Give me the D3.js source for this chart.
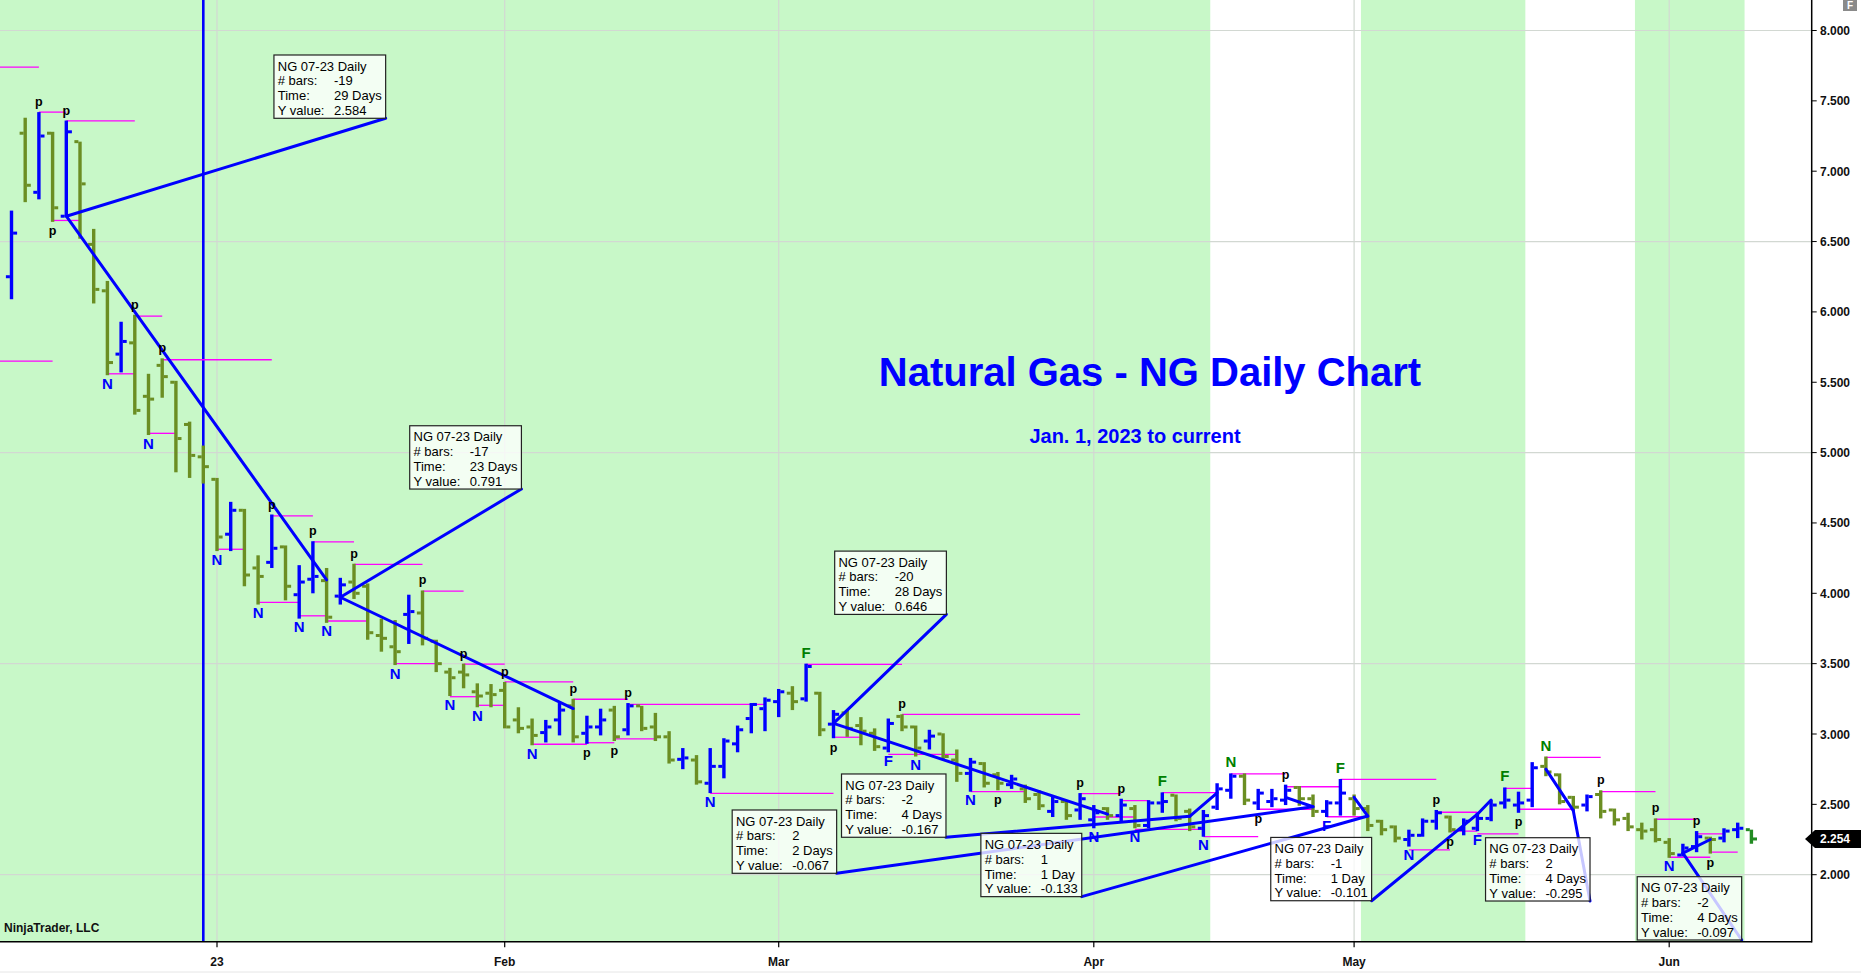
<!DOCTYPE html>
<html><head><meta charset="utf-8">
<script src="https://cdn.jsdelivr.net/npm/d3@7"></script>
<style>
body{margin:0;background:#fff;overflow:hidden;}
svg{display:block;font-family:"Liberation Sans",Arial,sans-serif;}
</style>
</head><body>
<svg id="c" width="1861" height="973"></svg>
<script>
// ---------- DATA ----------
const opens = [
6.25,7.27,6.85,7.27,6.68,7.21,6.48,6.15,5.70,5.78,
5.40,5.62,5.50,5.20,4.97,4.81,4.42,4.59,4.18,4.22,
4.33,3.99,4.10,4.09,3.98,4.08,4.05,3.70,3.62,3.85,
3.86,3.66,3.44,3.44,3.30,3.29,3.31,3.10,3.05,3.01,
3.10,3.20,3.005,3.05,3.17,3.03,3.20,3.05,2.98,2.82,
2.815,2.65,2.77,2.93,3.11,3.18,3.23,3.29,3.25,3.29,
3.07,3.15,3.06,3.005,2.90,3.125,3.05,2.95,3.00,2.815,
2.72,2.79,2.71,2.64,2.61,2.57,2.45,2.52,2.46,2.39,
2.47,2.42,2.47,2.35,2.51,2.565,2.45,2.33,2.48,2.60,
2.70,2.51,2.52,2.53,2.62,2.54,2.45,2.51,2.54,2.47,
2.38,2.34,2.25,2.28,2.38,2.41,2.32,2.33,2.40,2.51,
2.495,2.53,2.77,2.71,2.55,2.495,2.57,2.46,2.40,2.32,
2.32,2.23,2.14,2.20,2.26,2.26,2.32,2.32];
const highs = [
6.72,7.38,7.42,7.28,7.36,7.21,6.59,6.22,5.93,5.98,
5.56,5.67,5.51,5.22,5.05,4.82,4.65,4.60,4.27,4.56,
4.34,4.20,4.37,4.18,4.11,4.21,4.07,3.82,3.81,3.99,
4.02,3.67,3.47,3.50,3.36,3.355,3.37,3.19,3.11,3.10,
3.22,3.25,3.13,3.18,3.20,3.22,3.20,3.15,3.02,2.90,
2.85,2.90,2.97,3.06,3.22,3.26,3.32,3.34,3.50,3.30,
3.17,3.17,3.12,3.04,3.11,3.14,3.06,3.03,3.005,2.89,
2.83,2.80,2.73,2.71,2.64,2.60,2.56,2.53,2.58,2.495,
2.48,2.54,2.495,2.53,2.585,2.57,2.47,2.46,2.65,2.72,
2.72,2.61,2.61,2.64,2.63,2.57,2.53,2.68,2.57,2.495,
2.39,2.35,2.32,2.40,2.46,2.42,2.40,2.44,2.53,2.62,
2.59,2.80,2.84,2.72,2.56,2.57,2.60,2.47,2.44,2.37,
2.40,2.26,2.22,2.31,2.27,2.33,2.37,2.32];
const lows = [
6.09,6.78,6.80,6.64,6.68,6.52,6.06,5.55,5.57,5.27,
5.125,5.39,4.86,4.82,4.78,4.30,4.30,4.05,3.92,4.18,
3.95,3.82,4.00,3.79,3.92,3.96,3.67,3.585,3.49,3.64,
3.63,3.44,3.27,3.325,3.19,3.19,3.04,3.005,2.92,2.94,
2.99,2.94,2.93,2.99,2.95,2.99,3.02,2.95,2.79,2.75,
2.64,2.58,2.685,2.87,3.005,3.02,3.12,3.17,3.23,2.985,
2.97,2.98,2.92,2.88,2.87,3.02,2.84,2.89,2.815,2.66,
2.59,2.62,2.60,2.61,2.51,2.46,2.41,2.39,2.39,2.33,
2.39,2.38,2.33,2.33,2.44,2.38,2.31,2.27,2.46,2.54,
2.495,2.46,2.48,2.495,2.49,2.41,2.41,2.42,2.42,2.31,
2.28,2.23,2.20,2.27,2.32,2.30,2.28,2.31,2.38,2.47,
2.44,2.48,2.70,2.50,2.46,2.45,2.40,2.35,2.31,2.25,
2.23,2.12,2.13,2.16,2.15,2.23,2.26,2.22];
const closes = [
6.56,6.90,7.25,6.74,7.28,6.91,6.16,5.64,5.79,5.30,
5.38,5.54,5.10,4.98,4.90,4.40,4.59,4.13,4.12,4.32,
4.05,4.08,4.12,3.83,4.06,4.00,3.72,3.68,3.585,3.87,
3.68,3.50,3.40,3.42,3.27,3.28,3.05,3.04,2.99,3.05,
3.17,2.98,3.05,3.10,2.98,3.20,3.04,2.98,2.815,2.83,
2.66,2.77,2.95,3.03,3.21,3.24,3.30,3.23,3.48,3.03,
3.14,3.04,3.02,2.91,3.075,3.05,2.90,2.985,2.84,2.72,
2.80,2.65,2.65,2.68,2.54,2.49,2.52,2.42,2.54,2.44,
2.42,2.495,2.35,2.51,2.52,2.40,2.34,2.42,2.61,2.70,
2.53,2.58,2.54,2.60,2.54,2.45,2.51,2.58,2.47,2.35,
2.32,2.26,2.28,2.38,2.44,2.32,2.38,2.40,2.495,2.53,
2.51,2.76,2.73,2.52,2.48,2.555,2.45,2.39,2.34,2.31,
2.25,2.15,2.19,2.27,2.25,2.31,2.33,2.254];

// month labels and the bar index where each month starts
const xTickLabels = ["23","Feb","Mar","Apr","May","Jun"];
const xTickBars   = [15, 36, 56, 79, 98, 121];
// price axis ticks and grid levels
const yTickValues = [2.0,2.5,3.0,3.5,4.0,4.5,5.0,5.5,6.0,6.5,7.0,7.5,8.0];
const yGridValues = [2.0,3.5,5.0,6.5,8.0];
// shaded session ranges (bar index from/to)
const shadeFrom = [-1, 99, 119];
const shadeTo   = [87, 110, 126];
// vertical marker line bar
const markerBar = 14;
// swing levels: bar from, bar to, price
const levelFrom  = [-1,2,4,3,-1,9,7,11,10,15,19,22,18,21,23,25,30,28,33,32,34,36,38,41,42,44,45,51,58,60,64,65,70,78,79,81,82,84,87,89,91,93,96,97,102,104,105,107,109,110,112,116,120,121,123,124];
const levelTo    = [2,4,9,5,3,11,9,19,12,17,22,25,21,23,26,30,33,31,36,34,36,41,42,45,44,47,55,60,65,62,69,78,74,81,82,83,87,88,91,93,95,97,99,104,105,107,107,110,111,114,116,120,123,124,125,126];
const levelPrice = [7.74,7.42,7.357,6.65,5.65,5.97,5.56,5.66,5.137,4.313,4.55,4.365,3.936,3.84,3.803,4.206,4.016,3.50,3.497,3.265,3.204,3.37,2.927,3.247,2.938,2.965,3.21,2.578,3.495,2.977,2.855,3.14,2.59,2.576,2.41,2.526,2.322,2.583,2.27,2.716,2.465,2.625,2.412,2.678,2.176,2.444,2.31,2.29,2.614,2.465,2.834,2.59,2.394,2.124,2.29,2.16];
// swing markers: bar, text, side
const markBar  = [2,3,4,7,9,10,11,15,18,19,21,22,23,25,28,30,32,33,34,36,38,41,42,44,45,51,58,60,64,65,66,70,72,78,79,81,82,84,87,89,91,93,96,97,102,104,105,107,109,110,112,116,120,121,123,124];
const markText = ["p","p","p","N","p","N","p","N","N","p","N","p","N","p","N","p","N","p","N","p","N","p","p","p","p","N","F","p","F","p","N","N","p","p","N","p","N","F","N","N","p","p","F","F","N","p","p","F","F","p","N","p","p","N","p","p"];
const markSide = ["a","b","a","b","a","b","a","b","b","a","b","a","b","a","b","a","b","a","b","a","b","a","b","b","a","b","a","b","b","a","b","b","b","a","b","a","b","a","b","a","b","a","b","a","b","a","b","b","a","b","a","a","a","b","a","b"];
// ruler measurements
const rulerStartBar   = [23,41,80,93,88,98,108,112,124];
const rulerStartPrice = [4.096,3.181,2.430,2.550,2.582,2.550,2.531,2.750,2.250];
const rulerEndBar     = [4,24,60,95,86,99,107,114,122];
const rulerEndPrice   = [6.680,3.972,3.076,2.483,2.415,2.417,2.430,2.455,2.153];
const rulerBars  = ["-19","-17","-20","2","-2","1","-1","2","-2"];
const rulerTime  = ["29 Days","23 Days","28 Days","2 Days","4 Days","1 Day","1 Day","4 Days","4 Days"];
const rulerY     = ["2.584","0.791","0.646","-0.067","-0.167","-0.133","-0.101","-0.295","-0.097"];
// ruler box anchor (bottom-right corner) in bar / price units
const rulerBoxBar   = [27.31,37.22,68.24,60.23,68.21,78.12,99.28,115.22,126.29];
const rulerBoxPrice = [7.376,4.741,3.850,2.010,2.266,1.844,1.815,1.813,1.536];

const titleText = "Natural Gas - NG Daily Chart";
const subtitleText = "Jan. 1, 2023 to current";
const instrument = "NG 07-23 Daily";

// ---------- CHART ----------
const W = 1861, H = 973, plotRight = 1811.7, plotBottom = 941.7;
const BLUE = "#0000ff", OLIVE = "#6b8e23", CURRENT = "#228b22", MAG = "#ff00ff";
const x = d3.scaleLinear().domain([0, 127]).range([11.5, 1751.4]);
const y = d3.scaleLinear().domain([2, 8]).range([874.7, 30.5]);

const svg = d3.select("#c");
svg.append("rect").attr("width", W).attr("height", H).attr("fill", "#fff");
svg.append("defs").append("clipPath").attr("id", "plot")
  .append("rect").attr("x", 0).attr("y", 0).attr("width", plotRight).attr("height", plotBottom);
const g = svg.append("g").attr("clip-path", "url(#plot)");

// shading
g.selectAll("rect.shade").data(d3.range(shadeFrom.length)).join("rect")
  .attr("x", i => x(shadeFrom[i] - 0.5)).attr("y", 0)
  .attr("width", i => x(shadeTo[i] + 0.5) - x(shadeFrom[i] - 0.5))
  .attr("height", plotBottom).attr("fill", "#c8f8c8");

// grid
g.selectAll("line.hg").data(yGridValues).join("line")
  .attr("x1", 0).attr("x2", plotRight).attr("y1", d => y(d)).attr("y2", d => y(d))
  .attr("stroke", "#d2d8d2").attr("stroke-width", 1.2);
g.selectAll("line.vg").data(xTickBars).join("line")
  .attr("x1", d => x(d)).attr("x2", d => x(d)).attr("y1", 0).attr("y2", plotBottom)
  .attr("stroke", "#d2d8d2").attr("stroke-width", 1.2);

// vertical marker line
g.append("line").attr("x1", x(markerBar)).attr("x2", x(markerBar))
  .attr("y1", 0).attr("y2", plotBottom).attr("stroke", BLUE).attr("stroke-width", 2.6);

// levels
g.selectAll("line.lvl").data(d3.range(levelFrom.length)).join("line")
  .attr("x1", i => x(levelFrom[i])).attr("x2", i => x(levelTo[i]))
  .attr("y1", i => y(levelPrice[i])).attr("y2", i => y(levelPrice[i]))
  .attr("stroke", MAG).attr("stroke-width", 1.3);

// bars
const last = opens.length - 1;
const barColor = i => i === last ? CURRENT : (closes[i] > opens[i] ? BLUE : OLIVE);
const bars = g.selectAll("g.bar").data(d3.range(opens.length)).join("g").attr("fill", barColor);
bars.append("rect").attr("x", i => x(i) - 1.7).attr("width", 3.4)
  .attr("y", i => y(highs[i])).attr("height", i => Math.max(2, y(lows[i]) - y(highs[i])));
bars.append("rect").attr("x", i => x(i) - 5.6).attr("width", 4).attr("y", i => y(opens[i]) - 1.5).attr("height", 3);
bars.append("rect").attr("x", i => x(i) + 1.6).attr("width", 4).attr("y", i => y(closes[i]) - 1.5).attr("height", 3);

// ruler lines
const R = d3.range(rulerStartBar.length);
g.selectAll("line.rul").data(R).join("line")
  .attr("x1", i => x(rulerStartBar[i])).attr("y1", i => y(rulerStartPrice[i]))
  .attr("x2", i => x(rulerEndBar[i])).attr("y2", i => y(rulerEndPrice[i]))
  .attr("stroke", BLUE).attr("stroke-width", 3).attr("stroke-linecap", "round");
g.selectAll("line.lead").data(R).join("line")
  .attr("x1", i => x(rulerEndBar[i])).attr("y1", i => y(rulerEndPrice[i]))
  .attr("x2", i => x(rulerBoxBar[i])).attr("y2", i => y(rulerBoxPrice[i]))
  .attr("stroke", BLUE).attr("stroke-width", 3).attr("stroke-linecap", "round");

// ruler boxes
const boxH = 63.3;
R.forEach(i => {
  const bx = x(rulerBoxBar[i]), by = y(rulerBoxPrice[i]);
  const bg = g.append("g");
  const rect = bg.append("rect").attr("fill", "#ffffff").attr("fill-opacity", 0.78)
    .attr("stroke", "#222").attr("stroke-width", 1.2);
  const tg = bg.append("g").attr("font-size", "13px").attr("fill", "#000");
  const rows = [[instrument, null], ["# bars:", rulerBars[i]], ["Time:", rulerTime[i]], ["Y value:", rulerY[i]]];
  let maxW = 0;
  rows.forEach((r, k) => {
    const t1 = tg.append("text").attr("x", 3.8).attr("y", 15.6 + 14.8 * k).text(r[0]);
    maxW = Math.max(maxW, 3.8 + t1.node().getComputedTextLength());
    if (r[1] !== null) {
      const t2 = tg.append("text").attr("x", 60).attr("y", 15.6 + 14.8 * k).text(r[1]);
      maxW = Math.max(maxW, 60 + t2.node().getComputedTextLength());
    }
  });
  const bw = maxW + 4;
  rect.attr("x", 0).attr("y", 0).attr("width", bw).attr("height", boxH);
  bg.attr("transform", `translate(${bx - bw},${by - boxH})`);
});

// swing markers
const markColor = i => markText[i] === "p" ? "#000" : (markSide[i] === "a" ? "#008000" : BLUE);
g.selectAll("text.mk").data(d3.range(markBar.length)).join("text")
  .attr("x", i => x(markBar[i]))
  .attr("y", i => markSide[i] === "a" ? y(highs[markBar[i]]) - 6 : y(lows[markBar[i]]) + 13.5)
  .attr("text-anchor", "middle")
  .attr("font-weight", "bold")
  .attr("font-size", i => markText[i] === "p" ? "12.5px" : "15px")
  .attr("fill", markColor)
  .text(i => markText[i]);

// title
g.append("text").attr("x", 1150).attr("y", 386).attr("text-anchor", "middle")
  .attr("font-size", "40px").attr("font-weight", "bold").attr("fill", BLUE).text(titleText);
g.append("text").attr("x", 1135).attr("y", 443).attr("text-anchor", "middle")
  .attr("font-size", "20px").attr("font-weight", "bold").attr("fill", BLUE).text(subtitleText);
g.append("text").attr("x", 4).attr("y", 931.5).attr("font-size", "12px").attr("font-weight", "bold")
  .attr("fill", "#111").text("NinjaTrader, LLC");

// axes frame
svg.append("line").attr("x1", plotRight).attr("x2", plotRight).attr("y1", 0).attr("y2", plotBottom + 0.75)
  .attr("stroke", "#000").attr("stroke-width", 1.5);
svg.append("line").attr("x1", 0).attr("x2", plotRight).attr("y1", plotBottom).attr("y2", plotBottom)
  .attr("stroke", "#000").attr("stroke-width", 1.5);

// y axis ticks
const ya = svg.append("g");
ya.selectAll("line").data(yTickValues).join("line")
  .attr("x1", plotRight).attr("x2", plotRight + 5).attr("y1", d => y(d)).attr("y2", d => y(d))
  .attr("stroke", "#000").attr("stroke-width", 1);
ya.selectAll("text").data(yTickValues).join("text")
  .attr("x", 1820).attr("y", d => y(d) + 4.5).attr("font-size", "12px").attr("font-weight", "bold")
  .attr("fill", "#111").text(d => d3.format(".3f")(d));

// x axis ticks
const xa = svg.append("g");
xa.selectAll("line").data(xTickBars).join("line")
  .attr("x1", d => x(d)).attr("x2", d => x(d)).attr("y1", plotBottom).attr("y2", plotBottom + 5.5)
  .attr("stroke", "#000").attr("stroke-width", 1.2);
xa.selectAll("text").data(xTickBars).join("text")
  .attr("x", d => x(d)).attr("y", 965.5).attr("text-anchor", "middle")
  .attr("font-size", "12px").attr("font-weight", "bold").attr("fill", "#111")
  .text((d, k) => xTickLabels[k]);

// last price marker
const ly = y(closes[last]);
svg.append("path")
  .attr("d", `M1805,${ly} L1815,${ly - 9} L1861,${ly - 9} L1861,${ly + 9} L1815,${ly + 9} Z`)
  .attr("fill", "#000");
svg.append("text").attr("x", 1820).attr("y", ly + 4.5).attr("font-size", "12px").attr("font-weight", "bold")
  .attr("fill", "#fff").text(d3.format(".3f")(closes[last]));

// small F button
svg.append("rect").attr("x", 1843).attr("y", 0).attr("width", 14).attr("height", 11).attr("fill", "#8a8a8a");
svg.append("text").attr("x", 1850).attr("y", 9).attr("text-anchor", "middle").attr("font-size", "10px")
  .attr("font-weight", "bold").attr("fill", "#fff").text("F");
svg.append("line").attr("x1", 0).attr("x2", W).attr("y1", 972).attr("y2", 972).attr("stroke", "#e6e6e6");
</script>
</body></html>
